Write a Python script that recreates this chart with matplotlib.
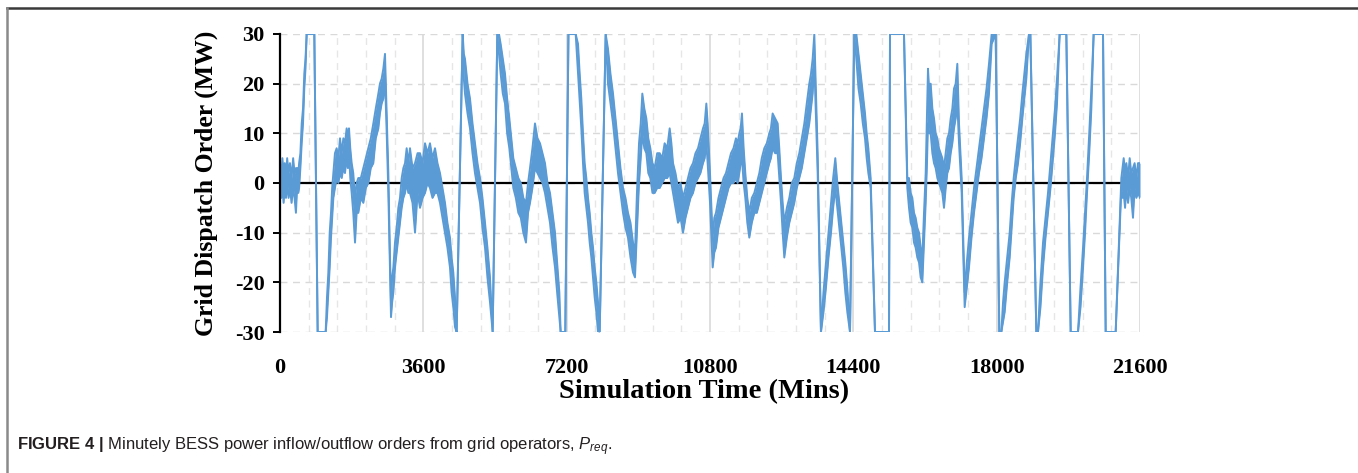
import matplotlib
matplotlib.use("Agg")
import matplotlib.pyplot as plt
from matplotlib.lines import Line2D

# ---- data: time (minutes), upper and lower edge of the
# ---- noisy dispatch-order trace (MW)
t_min = [
    0, 30, 60, 90, 120, 150, 180, 215, 250, 290, 330, 365, 400, 430, 460, 480, 512, 545, 578, 610, 640, 670,
    862, 946, 1147, 1180, 1214, 1248, 1281, 1310, 1340, 1380, 1423, 1465, 1507, 1550, 1591, 1632, 1674, 1705,
    1733, 1765, 1800, 1840, 1884, 1925, 1967, 2030, 2093, 2155, 2219, 2280, 2344, 2405, 2470, 2510, 2553, 2595,
    2637, 2680, 2721, 2755, 2788, 2817, 2847, 2888, 2930, 2972, 3014, 3056, 3098, 3140, 3181, 3223, 3265, 3328,
    3391, 3455,
    3516, 3580, 3642, 3705, 3767, 3830, 3893, 3955, 4018, 4080, 4144, 4205, 4269, 4310, 4353, 4395, 4437, 4588,
    4617, 4646, 4710, 4772, 4835, 4897, 4960, 5023, 5085, 5149, 5210, 5274, 5341, 5458, 5500, 5542, 5596, 5651,
    5705, 5760, 5810, 5860, 5923, 5986, 6048, 6111, 6178, 6230, 6279, 6340, 6404, 6467, 6530, 6592, 6655, 6718,
    6781, 6845, 6907, 6960, 7016, 7049, 7165, 7245, 7426,
    7485, 7527, 7568, 7610, 7652, 7694, 7736, 7778, 7820, 7862, 7903, 7945, 7987, 8029, 8180, 8238, 8300, 8364,
    8427, 8489, 8552, 8615, 8677, 8740, 8803, 8866, 8916, 8965, 9017, 9060, 9100, 9150, 9201, 9250, 9301, 9355,
    9410, 9473, 9536, 9600, 9661, 9725, 9787, 9830, 9871, 9933, 9996, 10060, 10122, 10185, 10247, 10310, 10373,
    10435, 10499, 10560, 10624, 10666, 10708, 10741, 10800,
    10867, 10908, 10950, 11013, 11076, 11140, 11201, 11265, 11327, 11390, 11452, 11494, 11536, 11570, 11603,
    11645, 11687, 11737, 11787, 11850, 11913, 11976, 12039, 12100, 12164, 12227, 12290, 12330, 12373, 12436,
    12499, 12540, 12583, 12625, 12666, 12730, 12792, 12855, 12917, 12980, 13043, 13106, 13169, 13230, 13294,
    13336, 13378, 13420, 13462, 13504, 13587, 13650, 13713, 13776, 13839, 13893, 13947, 13998, 14048, 14098,
    14148, 14198, 14249, 14316, 14424,
    14475, 14530, 14584, 14638, 14693, 14735, 14777, 14835, 14944, 15296, 15321, 15672, 15756, 15798, 15840,
    15882, 15924, 15965, 16007, 16050, 16091, 16133, 16175, 16217, 16250, 16275, 16310, 16342, 16385, 16426,
    16468, 16510, 16550, 16593, 16635, 16677, 16720, 16761, 16803, 16845, 16887, 16928, 16970, 17012, 17054,
    17121, 17196, 17250, 17305, 17368, 17431, 17494, 17556, 17620, 17682, 17745, 17807, 17874, 17975, 18066,
    18117, 18160, 18201, 18265, 18327, 18377, 18427, 18480, 18536, 18590, 18645, 18695, 18745, 18812, 18846,
    18996, 19038, 19100, 19164, 19227, 19289, 19352, 19415, 19465, 19515, 19582, 19750, 19859, 20043, 20106,
    20169, 20220, 20269, 20325, 20378, 20436, 20671, 20738, 20989, 21131, 21160, 21190, 21225, 21257, 21300,
    21341, 21380, 21424, 21465, 21508, 21550, 21600,
]

p_high = [
    4, 1, 5, 2, 4, 1, 5, 2, 4, 1, 5, 2, 3, 3, 2, 4, 6, 12, 15, 22, 25, 30,
    30, -30, -30, -23, -18, -10, -6, -1, 2, 6, 7, 5, 9, 6, 9, 8, 11, 9,
    11, 7, 4, 2, -3, 0, 1, 1, 3, 5, 7, 9, 12, 15, 18, 20, 21, 23,
    26, 14, 2, -12, -24, -19, -17, -12, -9, -5, -3, 1, 3, 4, 7, 4, 7, 3,
    4, 6,
    6, 4, 8, 6, 8, 5, 7, 4, 2, -1, -4, -8, -11, -15, -18, -23, -30, 30,
    26, 25, 20, 17, 12, 8, 4, 1, -3, -8, -13, -19, -30, 30, 30, 28, 25, 22,
    17, 13, 9, 5, 3, 1, 0, -3, -4, 0, 3, 7, 12, 9, 8, 6, 4, 0,
    -2, -6, -10, -16, -22, -30, -30, 30, 30,
    28, 22, 17, 10, 4, 1, -3, -6, -10, -13, -17, -20, -24, -30, 30, 27, 22, 18,
    13, 8, 3, -1, -3, -6, -8, -12, -14, -2, 8, 12, 18, 15, 13, 9, 7, 4,
    3, 6, 6, 5, 8, 7, 11, 8, 4, 2, -1, 0, -3, -1, 1, 3, 4,
    6, 7, 9, 11, 12, 16, 12, 2,
    -11, -7, -6, -3, -1, 1, 2, 4, 6, 7, 9, 8, 10, 11, 14,
    7, 2, -3, -6, -3, -2, 0, 2, 5, 7, 8, 10, 11, 14, 13,
    12, 7, 1, -4, -8, -5, -3, 0, 1, 4, 6, 9, 12, 16, 20,
    22, 25, 30, 18, 6, -30, -22, -16, -10, -4, 1, 5, 0, -4, -8,
    -12, -16, -21, -30, 30,
    30, 26, 22, 18, 14, 10, 7, 1, -30, -30, 30, 30, 1, 1, -2,
    -3, -6, -7, -9, -10, -13, -15, -6, 2, 14, 23, 18, 20, 15, 13,
    10, 9, 7, 6, 5, 3, 6, 9, 10, 13, 15, 19, 20, 24, 12,
    1, -22, -16, -11, -6, -1, 3, 7, 11, 15, 19, 24, 30, 30, -30,
    -30, -24, -20, -15, -10, -4, 1, 5, 9, 13, 18, 22, 26, 30, 30,
    -30, -30, -20, -12, -7, -2, 4, 10, 15, 21, 30, 30, -30, -30, -21,
    -13, -6, 1, 10, 19, 30, 30, -30, -30, 1, 3, 5, 2, 4, 1,
    5, 2, 3, 4, 1, 4, 4,
]

p_low = [
    -3, -3, -1, -4, -1, -3, 0, -3, -1, -4, -1, -3, -6, -1, -2, -1, 3, 8, 12, 19, 23, 30,
    30, -30, -30, -27, -22, -17, -11, -7, -3, -1, 1, 0, 2, 1, 3, 2, 5, 3,
    6, 1, -2, -6, -12, -6, -6, -3, -4, -1, 0, 3, 4, 9, 11, 14, 16, 17,
    21, 10, -2, -15, -27, -24, -22, -17, -14, -11, -8, -5, -3, -2, 0, -2, -2, -4,
    -10, -2,
    -5, -3, -2, 0, -1, -3, -2, -2, -4, -7, -10, -13, -17, -22, -25, -29, -30, 30,
    21, 18, 14, 11, 6, 2, -1, -4, -9, -13, -19, -24, -30, 30, 26, 22, 18, 16,
    10, 7, 3, -1, -3, -6, -7, -10, -12, -6, -4, -1, 3, 2, 1, 0, -2, -5,
    -8, -13, -17, -22, -27, -30, -30, 30, 30,
    22, 16, 11, 4, -2, -5, -8, -12, -15, -19, -23, -26, -30, -30, 30, 20, 16, 12,
    7, 2, -2, -6, -9, -11, -15, -18, -19, -10, 0, 5, 10, 7, 6, 2, 1, -2,
    -2, -1, -1, 0, 1, 1, 2, 0, -2, -5, -8, -7, -10, -7, -5, -3, -2,
    0, 1, 2, 4, 5, 8, 4, -4,
    -17, -14, -13, -9, -7, -5, -3, -1, 0, 0, 1, 0, 2, 4, 5,
    0, -3, -8, -11, -8, -6, -6, -4, -2, 0, 2, 4, 5, 7, 6,
    6, 1, -4, -10, -15, -11, -8, -6, -4, -1, 1, 3, 6, 9, 12,
    15, 18, 24, 13, 2, -30, -26, -21, -15, -10, -5, -1, -5, -9, -13,
    -17, -22, -26, -30, 30,
    25, 19, 16, 12, 9, 5, 2, -1, -30, -30, 30, 30, -1, -5, -8,
    -9, -12, -13, -15, -16, -19, -20, -12, -4, 4, 12, 10, 10, 6, 4,
    3, 1, 0, -1, -2, -5, -1, 2, 3, 6, 8, 11, 13, 16, 8,
    -2, -25, -21, -17, -11, -6, -2, 2, 5, 9, 13, 18, 28, 30, -30,
    -30, -28, -26, -20, -15, -9, -3, 1, 4, 8, 13, 17, 21, 30, 30,
    -30, -30, -25, -17, -11, -6, -1, 5, 10, 16, 30, 30, -30, -30, -25,
    -17, -10, -2, 6, 15, 30, 30, -30, -30, -1, -3, -2, -5, -1, -4,
    -1, -3, -7, -1, -3, -2, -3,
]

x_ticks = [0, 3600, 7200, 10800, 14400, 18000, 21600]
y_ticks = [-30, -20, -10, 0, 10, 20, 30]

assert len(t_min) == len(p_high) == len(p_low)

BLUE = "#5B9BD5"
GRID = "#d9d9d9"

plt.rcParams["axes.unicode_minus"] = False
plt.rcParams["mathtext.fontset"] = "custom"
plt.rcParams["mathtext.rm"] = "Liberation Sans"
plt.rcParams["mathtext.it"] = "Liberation Sans:italic"
plt.rcParams["mathtext.bf"] = "Liberation Sans:bold"

fig = plt.figure(figsize=(13.58, 4.73), dpi=100)
ax = fig.add_axes([280 / 1358, 1 - 332 / 473, 860 / 1358, 298 / 473])
ax.set_axisbelow(True)

# grid
ax.set_xticks(x_ticks)
ax.set_xticks(range(0, 21601, 720), minor=True)
ax.set_yticks(y_ticks)
ax.grid(True, which="major", axis="x", color=GRID, lw=1.2, ls="-")
ax.grid(True, which="minor", axis="x", color="#e6e6e6", lw=1.0, ls=(0, (5, 4)))
ax.grid(True, which="major", axis="y", color=GRID, lw=1.0, ls=(0, (5, 4)))

ax.axhline(0, color="black", lw=1.6, zorder=1)

# data trace
ax.fill_between(t_min, p_low, p_high, color=BLUE, lw=0, zorder=2)
ax.plot(t_min, p_high, color=BLUE, lw=1.4, zorder=3)
ax.plot(t_min, p_low, color=BLUE, lw=1.4, zorder=3)

ax.set_xlim(0, 21600)
ax.set_ylim(-30, 30)

for s in ["top", "right", "bottom"]:
    ax.spines[s].set_visible(False)
ax.spines["left"].set_linewidth(1.6)
ax.spines["left"].set_color("black")
ax.spines["left"].set_zorder(4)

serif = "Liberation Serif"
ax.tick_params(axis="x", which="both", length=0, pad=19)
ax.tick_params(axis="y", which="major", length=5, width=1.4, color="black", pad=6)
ax.tick_params(axis="y", which="minor", length=0)
ax.set_xticklabels([str(v) for v in x_ticks], fontfamily=serif, fontweight="bold", fontsize=16)
ax.set_yticklabels([str(v) for v in y_ticks], fontfamily=serif, fontweight="bold", fontsize=16)

ax.set_xlabel("Simulation Time (Mins)", fontfamily=serif, fontweight="bold", fontsize=20.5)
ax.xaxis.set_label_coords(0.493, -0.158)
ax.set_ylabel("Grid Dispatch Order (MW)", fontfamily=serif, fontweight="bold", fontsize=18.5)
ax.yaxis.set_label_coords(-0.072, 0.5)

# caption
fig.text(17 / 1358, 1 - 447 / 473,
         r"$\mathbf{FIGURE\ 4\ |}$ Minutely BESS power inflow/outflow orders from grid operators, $P_{req}$.",
         fontfamily="Liberation Sans", fontsize=12, color="#231f20", va="center", ha="left")

# frame of the figure panel
fig.add_artist(Line2D([7 / 1358, 1], [1 - 8 / 473, 1 - 8 / 473], color="#3a3a3a", lw=1.8,
                      transform=fig.transFigure))
fig.add_artist(Line2D([7 / 1358, 7 / 1358], [0, 1 - 8 / 473], color="#8a8a8a", lw=1.8,
                      transform=fig.transFigure))

fig.savefig("out.png", dpi=100)
